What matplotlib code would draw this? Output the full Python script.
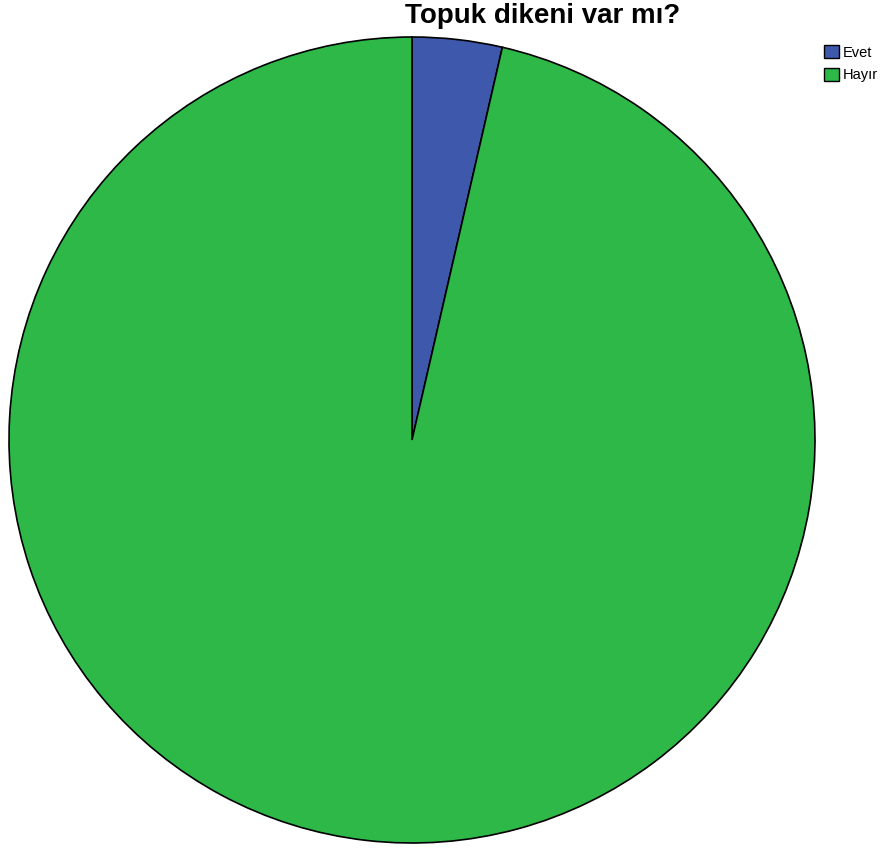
import matplotlib

matplotlib.use("Agg")
import matplotlib.pyplot as plt
from matplotlib.patches import Patch

labels = ["Evet", "Hayır"]
percents = [3.6, 96.4]
colors = ["#3E58AC", "#2EB848"]

W, H = 891, 848
fig = plt.figure(figsize=(W / 100, H / 100), dpi=100)
plt.rcParams["font.family"] = ["Liberation Sans", "DejaVu Sans"]

cx, cy, r = 412, 440, 403
ax = fig.add_axes([(cx - r) / W, (H - cy - r) / H, 2 * r / W, 2 * r / H])
ax.pie(percents, colors=colors, startangle=90, counterclock=False,
       wedgeprops={"edgecolor": "black", "linewidth": 1.2})
ax.set_xlim(-1, 1)
ax.set_ylim(-1, 1)
ax.set_aspect("auto")
ax.axis("off")

fig.text(543 / W, 1 - 16 / H, "Topuk dikeni var mı?", ha="center", va="center",
         fontsize=20, fontweight="bold")

handles = [Patch(facecolor=c, edgecolor="black", linewidth=1) for c in colors]
fig.legend(handles, labels, loc="upper left", bbox_to_anchor=(814 / W, 1 - 35 / H),
           frameon=False, fontsize=10.5, handlelength=1.0, handleheight=1.0,
           handletextpad=0.25, labelspacing=0.55, borderpad=0.2)

fig.savefig("out.png", dpi=100)
